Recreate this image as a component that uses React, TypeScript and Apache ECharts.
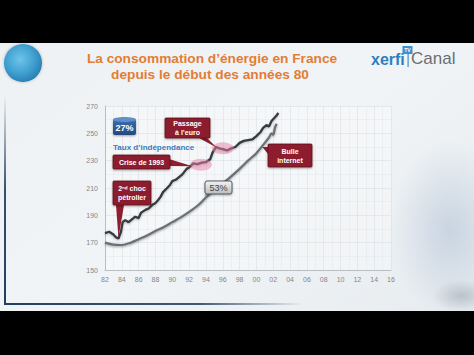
import React, { useEffect, useRef } from "react";
import * as echarts from "echarts";

// ---- data ----
const xMin = 1982;
const xMax = 2016;
const xStep = 2;
const yMin = 150;
const yMax = 270;
const yStep = 20;

const consumptionYears = [
  1982.0, 1982.5, 1983.0, 1983.3, 1983.6, 1983.9, 1984.1, 1984.4, 1984.8, 1985.2,
  1985.6, 1986.0, 1986.3, 1986.8, 1987.2, 1987.6, 1988.0, 1988.3, 1988.6, 1988.9,
  1989.3, 1989.7, 1990.0, 1990.4, 1990.8, 1991.2, 1991.7, 1992.0, 1992.5, 1993.0,
  1993.5, 1994.0, 1994.5, 1994.8, 1995.2, 1995.6, 1996.0, 1996.5, 1997.0, 1997.5,
  1998.0, 1998.5, 1999.0, 1999.5, 2000.0, 2000.5, 2000.8, 2001.2, 2001.5, 2001.8,
  2002.1, 2002.4, 2002.6,
];
const consumptionValues = [
  177, 178, 176, 174, 173, 178, 185, 186.5, 185, 187,
  189, 188, 192, 194, 195, 197.5, 199, 201, 203.5, 207,
  209.5, 212, 215, 216, 218, 220, 224, 225, 228, 227.5,
  228.5, 229, 231, 236, 240, 239, 238.5, 237.5, 239, 240,
  243, 244.5, 245, 245.5, 248, 251, 254, 256, 255, 259,
  261, 263, 265,
];

const trendYears = [
  1982, 1983, 1984, 1985, 1986, 1987, 1988, 1989, 1990, 1991,
  1992, 1993, 1994, 1995, 1996, 1997, 1998, 1999, 2000, 2001,
  2001.5, 2001.8, 2002.0, 2002.2, 2002.4,
];
const trendValues = [
  170, 168.5, 168.3, 169.8, 172.5, 175.3, 178.5, 181.5, 185, 188.5,
  192.5, 197, 203, 208.5, 213.5, 218.5, 224, 230, 235.5, 243,
  247, 250, 249, 254, 257,
];

const titleLine1 = "La consommation d’énergie en France";
const titleLine2 = "depuis le début des années 80";
const independenceStart = "27%";
const independenceEnd = "53%";
const independenceLabel = "Taux d’indépendance";

const eventLabels = ["2ⁿᵈ choc\npétrolier", "Crise de 1993", "Passage\nà l’euro", "Bulle\ninternet"];
const eventTargets = [
  [1983.6, 173.5],
  [1992.4, 226],
  [1995.3, 239.5],
  [2000.7, 240],
];
const highlightPoints = [
  [1993.4, 227],
  [1996.0, 239],
];
const endLabelTarget = [1993.8, 204];

// ---- layout of the annotation boxes (pixels) ----
const eventBoxes = [
  { x: 113, y: 181, w: 38, h: 24, base: [[116, 205], [124, 205]] },
  { x: 113, y: 155, w: 57, h: 14, base: [[169, 159], [169, 166]] },
  { x: 165, y: 118, w: 45, h: 20, base: [[199, 138], [207, 138]] },
  { x: 268, y: 144, w: 44, h: 23, base: [[268, 147], [268, 154]] },
];

const FONT = "'Liberation Sans', Arial, sans-serif";

export default function App() {
  const ref = useRef<HTMLDivElement>(null);

  useEffect(() => {
    const chart = echarts.init(ref.current!, null, { renderer: "svg" });
    const twoDigits = (v: number) => String(v % 100).padStart(2, "0");

    chart.setOption({
      animation: false,
      backgroundColor: {
        type: "linear", x: 0, y: 0, x2: 1, y2: 1,
        colorStops: [
          { offset: 0, color: "#eef1f3" },
          { offset: 0.5, color: "#f1f4f6" },
          { offset: 1, color: "#e6ebef" },
        ],
      },
      grid: {
        left: 105, right: 83, top: 106, bottom: 85,
        show: true, backgroundColor: "rgba(255,255,255,0.3)", borderWidth: 0,
      },
      xAxis: {
        type: "value", min: xMin, max: xMax, interval: xStep,
        axisLine: { show: true, lineStyle: { color: "#b9bec2", width: 1 } },
        axisTick: { show: false },
        axisLabel: { fontSize: 7, color: "#83868a", margin: 6, fontFamily: FONT, formatter: twoDigits },
        splitLine: { show: true, lineStyle: { color: "rgba(210,217,223,0.45)", width: 1 } },
        minorTick: { show: false, splitNumber: 2 },
        minorSplitLine: { show: true, lineStyle: { color: "rgba(220,226,231,0.35)", width: 1 } },
      },
      yAxis: {
        type: "value", min: yMin, max: yMax, interval: yStep,
        axisLine: { show: true, lineStyle: { color: "#b9bec2", width: 1 } },
        axisTick: { show: false },
        axisLabel: { fontSize: 7, color: "#83868a", margin: 7, fontFamily: FONT },
        splitLine: { show: true, lineStyle: { color: "rgba(210,217,223,0.45)", width: 1 } },
        minorTick: { show: false, splitNumber: 2 },
        minorSplitLine: { show: true, lineStyle: { color: "rgba(220,226,231,0.35)", width: 1 } },
      },
      series: [
        {
          type: "line",
          data: trendYears.map((x, i) => [x, trendValues[i]]),
          showSymbol: false,
          smooth: 0.3,
          lineStyle: {
            color: "#6a6f74", width: 2.2,
            shadowBlur: 2, shadowColor: "rgba(0,0,0,0.35)", shadowOffsetY: 1,
          },
          z: 2,
        },
        {
          type: "line",
          data: consumptionYears.map((x, i) => [x, consumptionValues[i]]),
          showSymbol: false,
          lineStyle: {
            color: "#353a40", width: 2.3,
            shadowBlur: 2, shadowColor: "rgba(0,0,0,0.25)", shadowOffsetY: 1,
          },
          z: 3,
          markPoint: {
            symbol: "circle",
            symbolSize: [22, 12],
            label: { show: false },
            itemStyle: { color: "rgba(232,128,165,0.5)" },
            data: highlightPoints.map((p) => ({ coord: p })),
          },
        },
      ],
    });

    const px = (p: number[]) => chart.convertToPixel({ gridIndex: 0 } as any, p) as number[];

    const textStyle = (text: string, x: number, y: number, font: string, fill: string, align = "left", vAlign = "top", extra: any = {}) => ({
      text, x, y, font, fill,
      textAlign: align, align,
      textVerticalAlign: vAlign, verticalAlign: vAlign,
      ...extra,
    });

    const RED = "#8d1f2f";
    const elements: any[] = [];

    // right side blurred backdrop
    elements.push({
      type: "ellipse", z: -5, silent: true,
      shape: { cx: 450, cy: 230, rx: 60, ry: 90 },
      style: {
        fill: {
          type: "radial", x: 0.5, y: 0.5, r: 0.5,
          colorStops: [
            { offset: 0, color: "rgba(160,180,205,0.45)" },
            { offset: 1, color: "rgba(160,180,205,0)" },
          ],
        },
      },
    });
    elements.push({
      type: "ellipse", z: -5, silent: true,
      shape: { cx: 462, cy: 296, rx: 30, ry: 16 },
      style: {
        fill: {
          type: "radial", x: 0.5, y: 0.5, r: 0.5,
          colorStops: [
            { offset: 0, color: "rgba(100,110,122,0.3)" },
            { offset: 1, color: "rgba(100,110,122,0)" },
          ],
        },
      },
    });

    // left frame lines
    elements.push({
      type: "rect", z: 1, silent: true,
      shape: { x: 4, y: 95, width: 2, height: 210 },
      style: {
        fill: {
          type: "linear", x: 0, y: 0, x2: 0, y2: 1,
          colorStops: [
            { offset: 0, color: "rgba(35,62,92,0)" },
            { offset: 0.45, color: "rgba(35,62,92,0.9)" },
            { offset: 1, color: "#233e5c" },
          ],
        },
      },
    });
    elements.push({
      type: "rect", z: 1, silent: true,
      shape: { x: 4, y: 303, width: 300, height: 2 },
      style: {
        fill: {
          type: "linear", x: 0, y: 0, x2: 1, y2: 0,
          colorStops: [
            { offset: 0, color: "#233e5c" },
            { offset: 0.65, color: "rgba(35,62,92,0.85)" },
            { offset: 1, color: "rgba(35,62,92,0)" },
          ],
        },
      },
    });

    // globe
    elements.push({
      type: "circle", z: 5, silent: true,
      shape: { cx: 23, cy: 63, r: 19 },
      style: {
        fill: {
          type: "radial", x: 0.42, y: 0.4, r: 0.6,
          colorStops: [
            { offset: 0, color: "#6fc4e8" },
            { offset: 0.6, color: "#41a2d2" },
            { offset: 1, color: "#2c82b3" },
          ],
        },
        shadowBlur: 3, shadowColor: "rgba(0,0,0,0.25)",
      },
    });

    // title
    elements.push({
      type: "text", z: 10, silent: true,
      style: textStyle(titleLine1, 212, 51, `bold 13.7px ${FONT}`, "#e27d34", "center", "top"),
    });
    elements.push({
      type: "text", z: 10, silent: true,
      style: textStyle(titleLine2, 210, 67, `bold 13.7px ${FONT}`, "#e27d34", "center", "top"),
    });

    // logo
    elements.push({
      type: "text", z: 10, silent: true,
      style: textStyle("xerfi", 371, 67, `bold 16px ${FONT}`, "#2f7fbf", "left", "bottom"),
    });
    elements.push({
      type: "text", z: 10, silent: true,
      style: textStyle("Canal", 411, 67, `17px ${FONT}`, "#6b6e72", "left", "bottom"),
    });
    elements.push({
      type: "rect", z: 10, silent: true,
      shape: { x: 402.5, y: 46, width: 10, height: 8 },
      style: { fill: "#3d90cf" },
    });
    elements.push({
      type: "text", z: 11, silent: true,
      style: textStyle("TV", 407.5, 50, `bold 5px ${FONT}`, "#ffffff", "center", "middle"),
    });
    elements.push({
      type: "rect", z: 10, silent: true,
      shape: { x: 407.5, y: 54, width: 1.2, height: 13 },
      style: { fill: "#3d90cf" },
    });

    // 27% box (cylinder-like)
    elements.push({
      type: "rect", z: 10, silent: true,
      shape: { x: 113, y: 119, width: 23, height: 16, r: 2 },
      style: {
        fill: {
          type: "linear", x: 0, y: 0, x2: 0, y2: 1,
          colorStops: [
            { offset: 0, color: "#3d6fb0" },
            { offset: 1, color: "#24497e" },
          ],
        },
        shadowBlur: 2, shadowColor: "rgba(0,0,0,0.35)", shadowOffsetY: 1,
      },
    });
    elements.push({
      type: "ellipse", z: 10, silent: true,
      shape: { cx: 124.5, cy: 119.5, rx: 11.5, ry: 2.5 },
      style: { fill: "#5f8fc8" },
    });
    elements.push({
      type: "text", z: 11, silent: true,
      style: textStyle(independenceStart, 124.5, 128, `bold 9px ${FONT}`, "#ffffff", "center", "middle"),
    });
    elements.push({
      type: "text", z: 10, silent: true,
      style: textStyle(independenceLabel, 113, 147, `bold 8px ${FONT}`, "#3b7cb8", "left", "middle"),
    });

    // 53% box with pointer to trend line
    const endTip = px(endLabelTarget);
    elements.push({
      type: "polygon", z: 9, silent: true,
      shape: { points: [[207, 193], [212, 193], endTip] },
      style: { fill: "#7c8085" },
    });
    elements.push({
      type: "rect", z: 10, silent: true,
      shape: { x: 205, y: 181, width: 27, height: 13, r: 2 },
      style: {
        fill: {
          type: "linear", x: 0, y: 0, x2: 0, y2: 1,
          colorStops: [
            { offset: 0, color: "#f4f4f4" },
            { offset: 1, color: "#b9bcbf" },
          ],
        },
        stroke: "#55595d", lineWidth: 1,
        shadowBlur: 2, shadowColor: "rgba(0,0,0,0.3)", shadowOffsetY: 1,
      },
    });
    elements.push({
      type: "text", z: 11, silent: true,
      style: textStyle(independenceEnd, 218.5, 188, `9px ${FONT}`, "#3c3f43", "center", "middle"),
    });

    // event annotation boxes with pointers
    eventBoxes.forEach((b, i) => {
      const tip = px(eventTargets[i]);
      elements.push({
        type: "polygon", z: 9, silent: true,
        shape: { points: [b.base[0], b.base[1], tip] },
        style: { fill: RED },
      });
      elements.push({
        type: "rect", z: 10, silent: true,
        shape: { x: b.x, y: b.y, width: b.w, height: b.h, r: 1 },
        style: {
          fill: RED, stroke: "#5d111d", lineWidth: 0.8,
          shadowBlur: 2, shadowColor: "rgba(0,0,0,0.35)", shadowOffsetY: 1,
        },
      });
      elements.push({
        type: "text", z: 11, silent: true,
        style: textStyle(eventLabels[i], b.x + b.w / 2, b.y + b.h / 2, `bold 7px ${FONT}`, "#ffffff", "center", "middle", { lineHeight: 9 }),
      });
    });

    // black letterbox bars
    elements.push({ type: "rect", z: 100, silent: true, shape: { x: 0, y: 0, width: 474, height: 43 }, style: { fill: "#000" } });
    elements.push({ type: "rect", z: 100, silent: true, shape: { x: 0, y: 311, width: 474, height: 44 }, style: { fill: "#000" } });

    chart.setOption({ graphic: { elements } });

    return () => chart.dispose();
  }, []);

  return (
    <div
      ref={ref}
      style={{ position: "absolute", left: 0, top: 0, width: 474, height: 355 }}
    />
  );
}
